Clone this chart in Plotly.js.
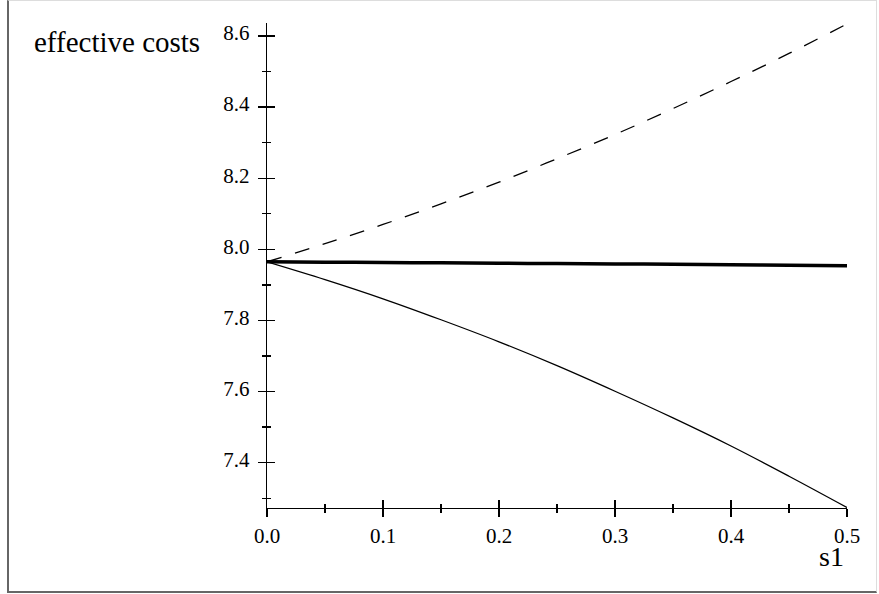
<!DOCTYPE html>
<html>
<head>
<meta charset="utf-8">
<script src="https://cdn.plot.ly/plotly-3.0.1.min.js"></script>
<style>
  html, body { margin: 0; padding: 0; background: #fff; }
  #wrap { position: relative; width: 879px; height: 594px; }
  #chart { position: absolute; left: 0; top: 0; width: 879px; height: 594px; }
  #frame { position: absolute; left: 7px; top: 0; width: 870px; height: 593px; box-sizing: border-box;
           border-left: 2px solid #666; border-bottom: 2px solid #666;
           border-top: 1px solid #ddd; border-right: 1px solid #ddd; pointer-events: none; }
</style>
</head>
<body>
<div id="wrap">
  <div id="chart"></div>
  <div id="frame"></div>
</div>
<script>
// s1 values (x axis)
const s1 = [0, 0.05, 0.1, 0.15, 0.2, 0.25, 0.3, 0.35, 0.4, 0.45, 0.5];
// upper (dashed) curve
const costsUpper = [7.965, 8.016, 8.070, 8.128, 8.189, 8.255, 8.323, 8.396, 8.472, 8.551, 8.634];
// middle (thick) curve
const costsMiddle = [7.965, 7.964, 7.963, 7.962, 7.961, 7.960, 7.959, 7.958, 7.957, 7.955, 7.954];
// lower (thin solid) curve
const costsLower = [7.965, 7.915, 7.861, 7.802, 7.740, 7.673, 7.601, 7.526, 7.447, 7.362, 7.274];

const xLabel = 's1';
const yLabel = 'effective costs';

const serif = 'Liberation Serif, Times New Roman, serif';

const traces = [
  { x: s1, y: costsUpper, mode: 'lines', line: { color: '#000', width: 1.3, dash: '15px,14px', shape: 'spline' }, hoverinfo: 'skip' },
  { x: s1, y: costsMiddle, mode: 'lines', line: { color: '#000', width: 3.5, shape: 'spline' }, hoverinfo: 'skip' },
  { x: s1, y: costsLower, mode: 'lines', line: { color: '#000', width: 1.3, shape: 'spline' }, hoverinfo: 'skip' },
  { x: [], y: [], xaxis: 'x2', yaxis: 'y2', mode: 'lines', hoverinfo: 'skip', showlegend: false }
];

const xRange = [0, 0.5];
const yRange = [7.2726, 8.6366];

const layout = {
  width: 879, height: 594,
  margin: { l: 267, r: 32, t: 23, b: 86, pad: 0 },
  paper_bgcolor: '#fff', plot_bgcolor: '#fff',
  showlegend: false,
  font: { family: serif, color: '#000', size: 21 },
  xaxis: {
    range: xRange, showgrid: false, zeroline: false,
    showline: true, linecolor: '#000', linewidth: 1.3,
    ticks: 'outside', ticklen: 8, tickwidth: 1.3, tickcolor: '#000',
    tick0: 0, dtick: 0.1, tickformat: '.1f',
    minor: { ticks: 'outside', ticklen: 4, tickwidth: 1.3, tickcolor: '#000', dtick: 0.05, tick0: 0, showgrid: false },
    tickfont: { family: serif, size: 21, color: '#000' },
    fixedrange: true
  },
  yaxis: {
    range: yRange, showgrid: false, zeroline: false,
    showline: true, linecolor: '#000', linewidth: 1.3,
    ticks: 'outside', ticklen: 8, tickwidth: 1.3, tickcolor: '#000',
    tick0: 0, dtick: 0.2, tickformat: '.1f',
    ticklabelstandoff: 4, ticklabelshift: -3,
    minor: { ticks: 'outside', ticklen: 4, tickwidth: 1.3, tickcolor: '#000', dtick: 0.1, tick0: 0, showgrid: false },
    tickfont: { family: serif, size: 21, color: '#000' },
    fixedrange: true
  },
  xaxis2: {
    range: xRange, overlaying: 'x', anchor: 'y2', side: 'bottom',
    showgrid: false, zeroline: false, showline: false, showticklabels: false,
    ticks: 'inside', ticklen: 8, tickwidth: 1.3, tickcolor: '#000', tick0: 0, dtick: 0.1,
    minor: { ticks: 'inside', ticklen: 4, tickwidth: 1.3, tickcolor: '#000', dtick: 0.05, tick0: 0, showgrid: false },
    fixedrange: true
  },
  yaxis2: {
    range: yRange, overlaying: 'y', anchor: 'x2', side: 'left',
    showgrid: false, zeroline: false, showline: false, showticklabels: false,
    ticks: 'inside', ticklen: 8, tickwidth: 1.3, tickcolor: '#000', tick0: 0, dtick: 0.2,
    minor: { ticks: 'inside', ticklen: 4, tickwidth: 1.3, tickcolor: '#000', dtick: 0.1, tick0: 0, showgrid: false },
    fixedrange: true
  },
  annotations: [
    { text: yLabel, xref: 'paper', yref: 'paper', x: -0.112, y: 0.961, xanchor: 'right', yanchor: 'middle',
      showarrow: false, font: { family: serif, size: 29, color: '#000' } },
    { text: xLabel, xref: 'paper', yref: 'paper', x: 0.9736, y: -0.1, xanchor: 'center', yanchor: 'middle',
      showarrow: false, font: { family: serif, size: 28, color: '#000' } }
  ]
};

Plotly.newPlot('chart', traces, layout, { staticPlot: true, displayModeBar: false });
</script>
</body>
</html>
